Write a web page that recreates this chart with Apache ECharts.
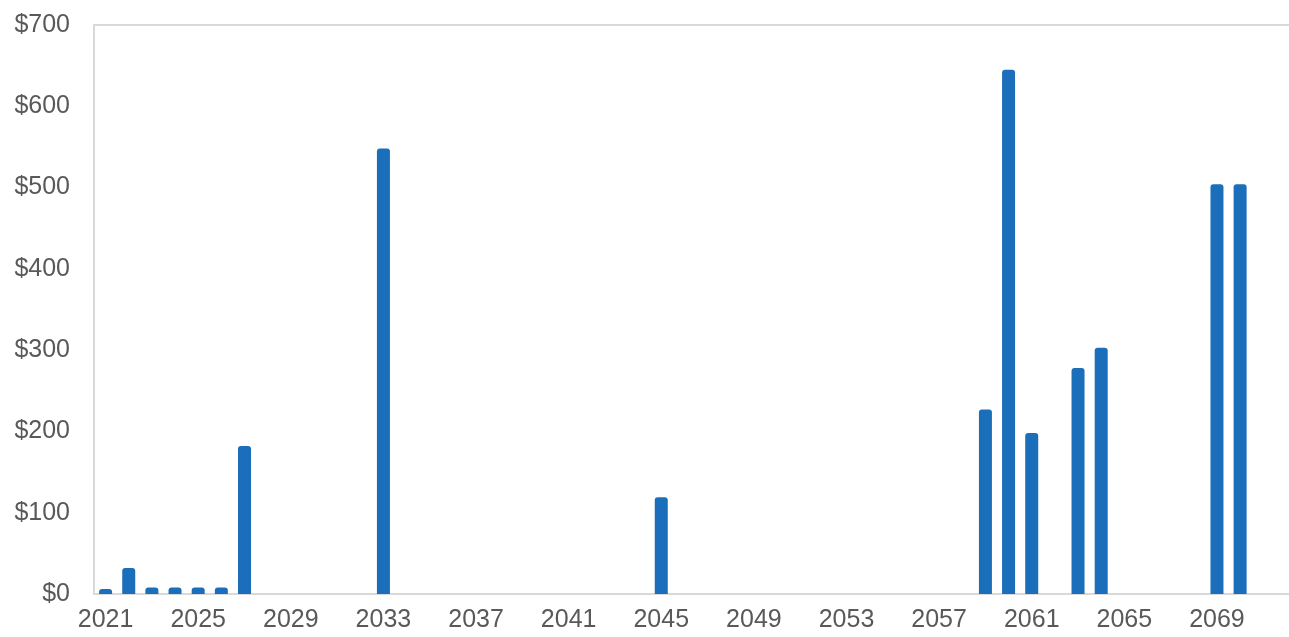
<!DOCTYPE html>
<html>
<head>
<meta charset="utf-8">
<script src="https://cdn.jsdelivr.net/npm/echarts@6/dist/echarts.min.js"></script>
<style>html,body{margin:0;padding:0;background:#fff}#c{width:1289px;height:637px}</style>
</head>
<body>
<div id="c"></div>
<script>
const years = [];
for (let y = 2021; y <= 2072; y++) years.push(String(y));
const values = [
  6, 32, 8, 8, 8, 8, 182, 0, 0, 0,
  0, 0, 548, 0, 0, 0, 0, 0, 0, 0,
  0, 0, 0, 0, 119, 0, 0, 0, 0, 0,
  0, 0, 0, 0, 0, 0, 0, 0, 227, 645,
  198, 0, 278, 303, 0, 0, 0, 0, 504, 504,
  0, 0
];
const yTicks = [0, 100, 200, 300, 400, 500, 600, 700];

const chart = echarts.init(document.getElementById('c'));
chart.setOption({
  animation: false,
  grid: {
    left: 94, top: 25, width: 1204, height: 569,
    outerBoundsMode: 'none', containLabel: false,
    show: true, borderColor: '#d9d9d9', borderWidth: 2, backgroundColor: 'transparent'
  },
  xAxis: {
    type: 'category',
    data: years,
    axisLine: {lineStyle: {color: '#d9d9d9', width: 2}},
    axisTick: {show: false},
    axisLabel: {
      interval: 3, color: '#595959', fontSize: 25,
      fontFamily: 'Liberation Sans, Arial, sans-serif', margin: 14
    }
  },
  yAxis: {
    type: 'value',
    min: yTicks[0], max: yTicks[yTicks.length - 1], interval: 100,
    axisLine: {show: true, lineStyle: {color: '#d9d9d9', width: 2}},
    axisTick: {show: false},
    splitLine: {show: false},
    axisLabel: {
      color: '#595959', fontSize: 25,
      fontFamily: 'Liberation Sans, Arial, sans-serif', margin: 24,
      formatter: v => '$' + v
    }
  },
  series: [{
    type: 'bar',
    data: values,
    barWidth: 13,
    itemStyle: {color: '#1B6EB9', borderRadius: [3, 3, 0, 0]}
  }]
});
</script>
</body>
</html>
